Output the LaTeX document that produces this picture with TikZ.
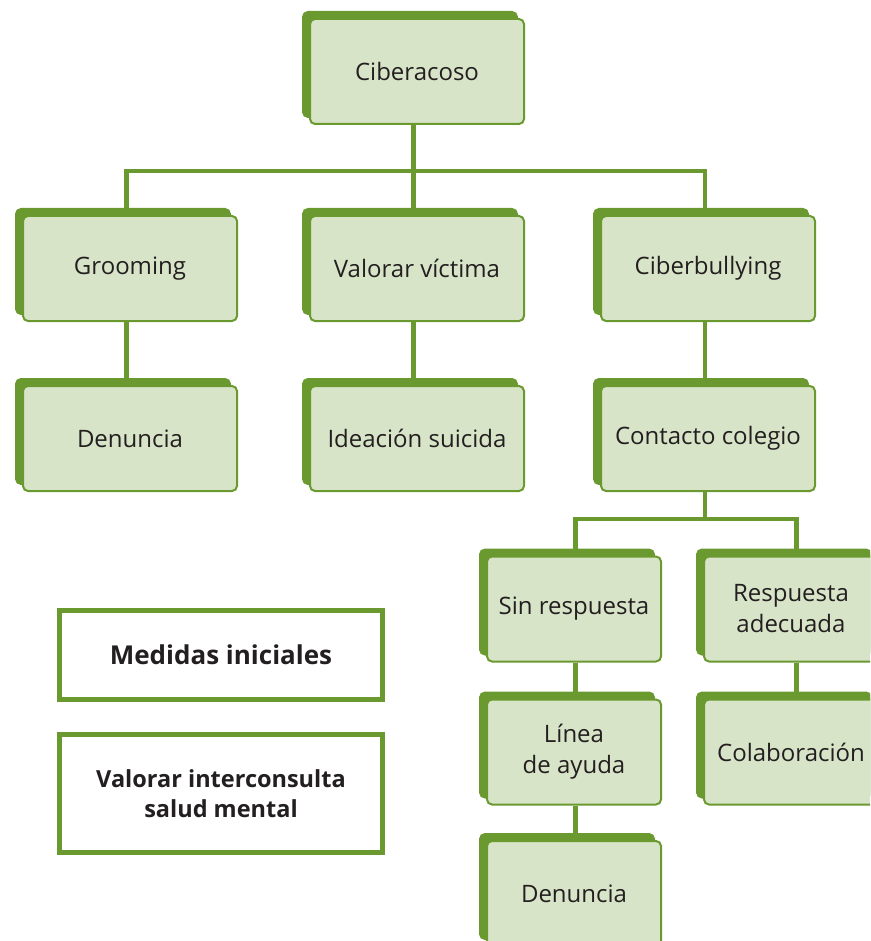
\documentclass[tikz,border=0pt]{standalone}
\usepackage{fontspec}
\setmainfont{Open Sans}
\usetikzlibrary{shadows}
\definecolor{gr}{HTML}{6A9A2F}
\definecolor{lt}{HTML}{D8E4C8}
\definecolor{tx}{HTML}{231F20}
\begin{document}
\begin{tikzpicture}[x=1pt,y=-1pt,
 box/.style={draw=gr, line width=2pt, fill=lt, rounded corners=5pt,
   minimum width=214pt, minimum height=105pt, inner sep=0pt, align=center,
   text=tx, font=\fontsize{24}{31}\selectfont,
   copy shadow={shadow xshift=-7pt, shadow yshift=7pt, fill=gr, draw=gr}},
 nbox/.style={box, minimum width=174pt},
 plainbox/.style={draw=gr, line width=5pt, fill=white, minimum width=323pt,
   inner sep=0pt, align=center, text=tx, font=\fontsize{23.5}{30}\selectfont\bfseries},
 conn/.style={draw=gr, line width=4.5pt}]
\useasboundingbox (0,0) rectangle (870,941);
\clip (0,0) rectangle (870,941);

\node[box] (cib) at (417,71.5) {Ciberacoso};
\node[box] (groom) at (130,268.5) {Grooming};
\node[box] (valv) at (417,268.5) {Valorar víctima};
\node[box] (cbul) at (708,268.5) {Ciberbullying};
\node[box] (den1) at (130,438.5) {Denuncia};
\node[box] (idea) at (417,438.5) {Ideación suicida};
\node[box] (cont) at (708,438.5) {Contacto colegio};
\node[nbox] (sinr) at (574,609) {Sin respuesta};
\node[nbox] (resp) at (791,609) {Respuesta\\adecuada};
\node[nbox] (linea) at (574,752) {Línea\\de ayuda};
\node[nbox] (colab) at (791,752) {Colaboración};
\node[nbox] (den2) at (574,893.5) {Denuncia};

\node[plainbox, minimum height=89pt, font=\fontsize{26}{30}\selectfont\bfseries] (med) at (221,655) {Medidas iniciales};
\node[plainbox, minimum height=118pt] (vint) at (221,793.5) {Valorar interconsulta\\salud mental};

\draw[conn] ([xshift=-3.5pt]groom.north) |- ([xshift=-3.5pt,yshift=-46pt]cib.south) -| ([xshift=-3pt]cbul.north);
\draw[conn] ([xshift=-3.5pt]cib.south) -- ([xshift=-3.5pt]valv.north);
\draw[conn] ([xshift=-3.5pt]groom.south) -- ([xshift=-3.5pt]den1.north);
\draw[conn] ([xshift=-3.5pt]valv.south) -- ([xshift=-3.5pt]idea.north);
\draw[conn] ([xshift=-3pt]cbul.south) -- ([xshift=-3pt]cont.north);

\draw[conn] ([xshift=1.5pt]sinr.north) |- ([xshift=-3pt,yshift=-27pt]cont.south) -| ([xshift=5.5pt]resp.north);
\draw[conn] ([xshift=-3pt]cont.south) -- ++(0,27);
\draw[conn] ([xshift=1.5pt]sinr.south) -- ([xshift=1.5pt]linea.north);
\draw[conn] ([xshift=1.5pt]linea.south) -- ([xshift=1.5pt]den2.north);
\draw[conn] ([xshift=5.5pt]resp.south) -- ([xshift=5.5pt]colab.north);
\end{tikzpicture}
\end{document}
